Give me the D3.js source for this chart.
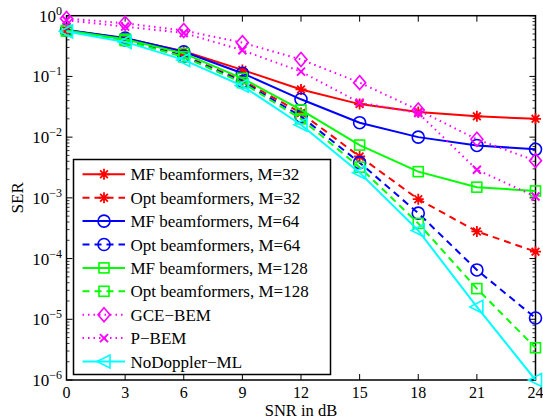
<!DOCTYPE html>
<html><head><meta charset="utf-8">
<script src="https://cdn.jsdelivr.net/npm/d3@7"></script>
<style>body{margin:0;background:#fff}svg{display:block}</style>
</head><body>
<svg id="c" width="543" height="420"></svg>
<script>
const snr = [0, 3, 6, 9, 12, 15, 18, 21, 24];
const xTicks = [0, 3, 6, 9, 12, 15, 18, 21, 24];
const yTickExps = [0, -1, -2, -3, -4, -5, -6];
const names = ["MF beamformers, M=32","Opt beamformers, M=32","MF beamformers, M=64","Opt beamformers, M=64","MF beamformers, M=128","Opt beamformers, M=128","GCE\u2212BEM","P\u2212BEM","NoDoppler\u2212ML"];
const mf32  = [0.58, 0.42, 0.26, 0.128, 0.061, 0.035, 0.026, 0.022, 0.020];
const opt32 = [0.57, 0.40, 0.22, 0.086, 0.025, 0.0048, 0.00095, 0.00028, 0.00013];
const mf64  = [0.58, 0.43, 0.255, 0.113, 0.042, 0.0173, 0.0100, 0.0073, 0.0063];
const opt64 = [0.57, 0.40, 0.215, 0.082, 0.022, 0.0038, 0.00056, 0.000065, 0.0000105];
const mf128 = [0.57, 0.41, 0.24, 0.093, 0.028, 0.0074, 0.0027, 0.0015, 0.0013];
const opt128= [0.56, 0.39, 0.21, 0.079, 0.020, 0.0032, 0.00038, 0.000032, 0.0000034];
const gce   = [0.90, 0.75, 0.57, 0.36, 0.19, 0.079, 0.028, 0.0092, 0.0041];
const pbem  = [0.84, 0.66, 0.52, 0.27, 0.12, 0.037, 0.025, 0.0029, 0.00105];
const nodop = [0.55, 0.37, 0.187, 0.070, 0.016, 0.0026, 0.00029, 0.000016, 0.0000010];
const colors = ["#ff0000","#ff0000","#0000ff","#0000ff","#00ff00","#00ff00","#ff00ff","#ff00ff","#00ffff"];
const dashes = ["", "7,5", "", "7,5", "", "7,5", "1.5,4", "1.5,4", ""];
const markers = ["star","star","circle","circle","square","square","diamond","x","triangle"];
const data = [mf32, opt32, mf64, opt64, mf128, opt128, gce, pbem, nodop];

const svg = d3.select("#c");
const L = 66.5, R = 535.5, T = 15.7, B = 380;
const x = d3.scaleLinear().domain([0, 24]).range([L, R]);
const y = d3.scaleLog().domain([1e-6, 1]).range([B, T]);
const font = "'Liberation Serif','Times New Roman',serif";

const g = svg.append("g");
const minor = [];
for (let e = -6; e < 0; e++) for (let k = 2; k <= 9; k++) minor.push(k * Math.pow(10, e));
minor.forEach(v => {
  g.append("line").attr("x1", L).attr("x2", L + 3).attr("y1", y(v)).attr("y2", y(v)).attr("stroke", "#000").attr("stroke-width", 0.8);
  g.append("line").attr("x1", R).attr("x2", R - 3).attr("y1", y(v)).attr("y2", y(v)).attr("stroke", "#000").attr("stroke-width", 0.8);
});
yTickExps.forEach(e => {
  const v = Math.pow(10, e);
  g.append("line").attr("x1", L).attr("x2", L + 6).attr("y1", y(v)).attr("y2", y(v)).attr("stroke", "#000");
  g.append("line").attr("x1", R).attr("x2", R - 6).attr("y1", y(v)).attr("y2", y(v)).attr("stroke", "#000");
  const t = g.append("text").attr("x", 62).attr("y", y(v) + 6).attr("text-anchor", "end")
    .attr("font-family", font).attr("font-size", 17);
  t.append("tspan").text("10");
  t.append("tspan").attr("dy", -7).attr("font-size", 12).text(e === 0 ? "0" : "\u2212" + (-e));
});
xTicks.forEach(v => {
  g.append("line").attr("x1", x(v)).attr("x2", x(v)).attr("y1", B).attr("y2", B - 6).attr("stroke", "#000");
  g.append("line").attr("x1", x(v)).attr("x2", x(v)).attr("y1", T).attr("y2", T + 6).attr("stroke", "#000");
  g.append("text").attr("x", x(v)).attr("y", 397.5).attr("text-anchor", "middle")
    .attr("font-family", font).attr("font-size", 16).text(v);
});
g.append("rect").attr("x", L).attr("y", T).attr("width", R - L).attr("height", B - T)
  .attr("fill", "none").attr("stroke", "#000").attr("stroke-width", 1.5);

svg.append("text").attr("x", (L + R) / 2).attr("y", 415.5).attr("text-anchor", "middle")
  .attr("font-family", font).attr("font-size", 16.5).text("SNR in dB");
svg.append("text").attr("transform", `translate(23,${(T + B) / 2}) rotate(-90)`).attr("text-anchor", "middle")
  .attr("font-family", font).attr("font-size", 17).text("SER");

function drawMarker(sel, type, cx, cy, color) {
  const s = sel.append("g").attr("transform", `translate(${cx},${cy})`)
    .attr("fill", "none").attr("stroke", color).attr("stroke-width", 1.6);
  if (type === "star") {
    const r = 5.5;
    s.append("path").attr("d", `M${-r},0H${r}M0,${-r}V${r}M${-r*0.7},${-r*0.7}L${r*0.7},${r*0.7}M${-r*0.7},${r*0.7}L${r*0.7},${-r*0.7}`).attr("stroke-width", 1.8);
  } else if (type === "circle") {
    s.append("circle").attr("r", 6);
  } else if (type === "square") {
    s.append("rect").attr("x", -5).attr("y", -5).attr("width", 10).attr("height", 10);
  } else if (type === "diamond") {
    s.append("path").attr("d", "M0,-7L6,0L0,7L-6,0Z");
  } else if (type === "x") {
    const r = 4;
    s.append("path").attr("d", `M${-r},${-r}L${r},${r}M${-r},${r}L${r},${-r}`).attr("stroke-width", 2);
  } else if (type === "triangle") {
    s.append("path").attr("d", "M-7,0L6,-6.5L6,6.5Z");
  }
}

const plot = svg.append("g");
const line = d3.line().x((d, i) => x(snr[i])).y(d => y(d));
data.forEach((arr, k) => {
  const gg = plot.append("g");
  gg.append("path").attr("d", line(arr)).attr("fill", "none").attr("stroke", colors[k])
    .attr("stroke-width", 2).attr("stroke-dasharray", dashes[k] || null);
  arr.forEach((v, i) => drawMarker(gg, markers[k], x(snr[i]), y(v), colors[k]));
});

const lg = svg.append("g");
lg.append("rect").attr("x", 73.5).attr("y", 159.5).attr("width", 257).attr("height", 215)
  .attr("fill", "#fff").attr("stroke", "#000").attr("stroke-width", 1.5);
names.forEach((n, k) => {
  const cy = 174.3 + k * 23.4;
  lg.append("line").attr("x1", 82.5).attr("x2", 125).attr("y1", cy).attr("y2", cy)
    .attr("stroke", colors[k]).attr("stroke-width", 2).attr("stroke-dasharray", dashes[k] || null);
  drawMarker(lg, markers[k], 104, cy, colors[k]);
  lg.append("text").attr("x", 130.5).attr("y", cy + 6).attr("font-family", font).attr("font-size", 17).text(n);
});
</script>
</body></html>
